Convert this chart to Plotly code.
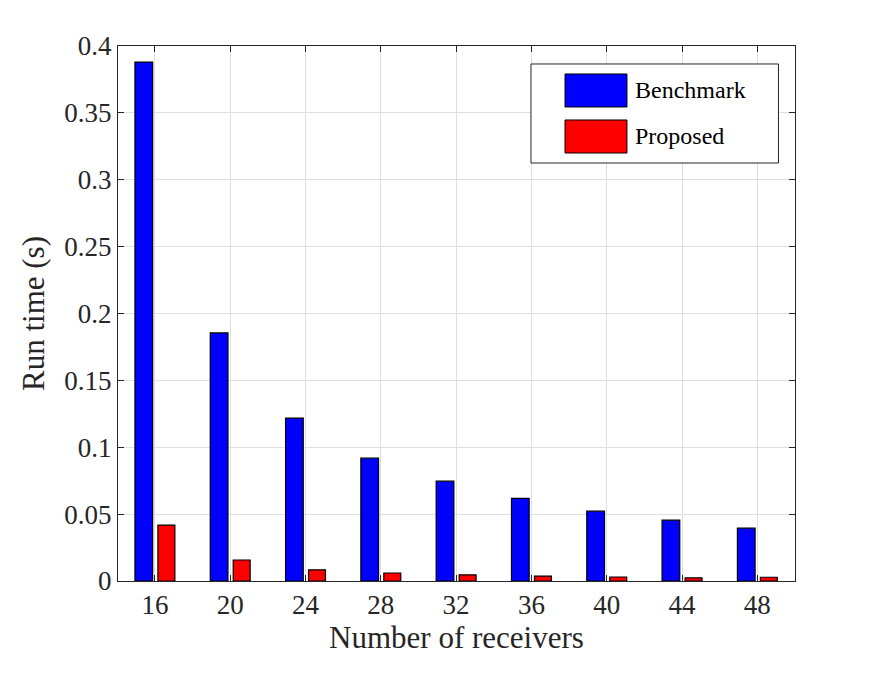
import plotly.graph_objects as go

categories = ["16", "20", "24", "28", "32", "36", "40", "44", "48"]
benchmark = [0.388, 0.1855, 0.1218, 0.0918, 0.0746, 0.0618, 0.0522, 0.0455, 0.0395]
proposed = [0.0418, 0.0157, 0.0083, 0.0060, 0.0046, 0.0037, 0.0030, 0.0023, 0.0028]
series_names = ["Benchmark", "Proposed"]
series_colors = ["#0000FF", "#FF0000"]
yticks = [0, 0.05, 0.1, 0.15, 0.2, 0.25, 0.3, 0.35, 0.4]
ytick_labels = ["0", "0.05", "0.1", "0.15", "0.2", "0.25", "0.3", "0.35", "0.4"]

FONT = "Liberation Serif"
AX = "#262626"

fig = go.Figure()
fig.add_trace(go.Bar(x=categories, y=benchmark, name=series_names[0],
                     marker=dict(color=series_colors[0], line=dict(color="black", width=1.2)),
                     width=0.235, offset=-0.265, showlegend=False))
fig.add_trace(go.Bar(x=categories, y=proposed, name=series_names[1],
                     marker=dict(color=series_colors[1], line=dict(color="black", width=1.2)),
                     width=0.225, offset=0.04, showlegend=False))

# MATLAB-style legend box
fig.add_shape(type="rect", xref="paper", yref="paper", x0=0.610, x1=0.9756, y0=0.7813, y1=0.9664,
              line=dict(color=AX, width=1), fillcolor="white", layer="above")
swatch_y = [(0.886, 0.9477), (0.800, 0.8617)]
text_y = [0.917, 0.831]
for name, col, (y0, y1), ty in zip(series_names, series_colors, swatch_y, text_y):
    fig.add_shape(type="rect", xref="paper", yref="paper", x0=0.6603, x1=0.7518,
                  y0=y0, y1=y1, line=dict(color="black", width=1),
                  fillcolor=col, layer="above")
    fig.add_annotation(xref="paper", yref="paper", x=0.7607, y=ty, text=name,
                       showarrow=False, xanchor="left", yanchor="middle",
                       font=dict(family=FONT, size=24, color="black"))

fig.update_layout(
    width=867, height=667,
    margin=dict(l=110, r=80, t=38, b=94),
    paper_bgcolor="white", plot_bgcolor="white",
    font=dict(family=FONT, color=AX),
)
fig.update_xaxes(
    type="category", range=[-0.49, 8.5],
    showline=True, linecolor=AX, linewidth=1, mirror="ticks",
    ticks="inside", ticklen=6, tickcolor=AX,
    showgrid=True, gridcolor="#DFDFDF", gridwidth=1,
    tickfont=dict(family=FONT, size=27, color=AX),
    title=dict(text="Number of receivers", font=dict(family=FONT, size=31, color=AX), standoff=4),
)
fig.update_yaxes(
    range=[0, 0.4], tickvals=yticks, ticktext=ytick_labels,
    showline=True, linecolor=AX, linewidth=1, mirror="ticks",
    ticks="inside", ticklen=6, tickcolor=AX,
    showgrid=True, gridcolor="#DFDFDF", gridwidth=1, zeroline=False,
    tickfont=dict(family=FONT, size=27, color=AX),
    title=dict(text="Run time (s)", font=dict(family=FONT, size=31, color=AX), standoff=10),
)

fig.write_html("out.html")
